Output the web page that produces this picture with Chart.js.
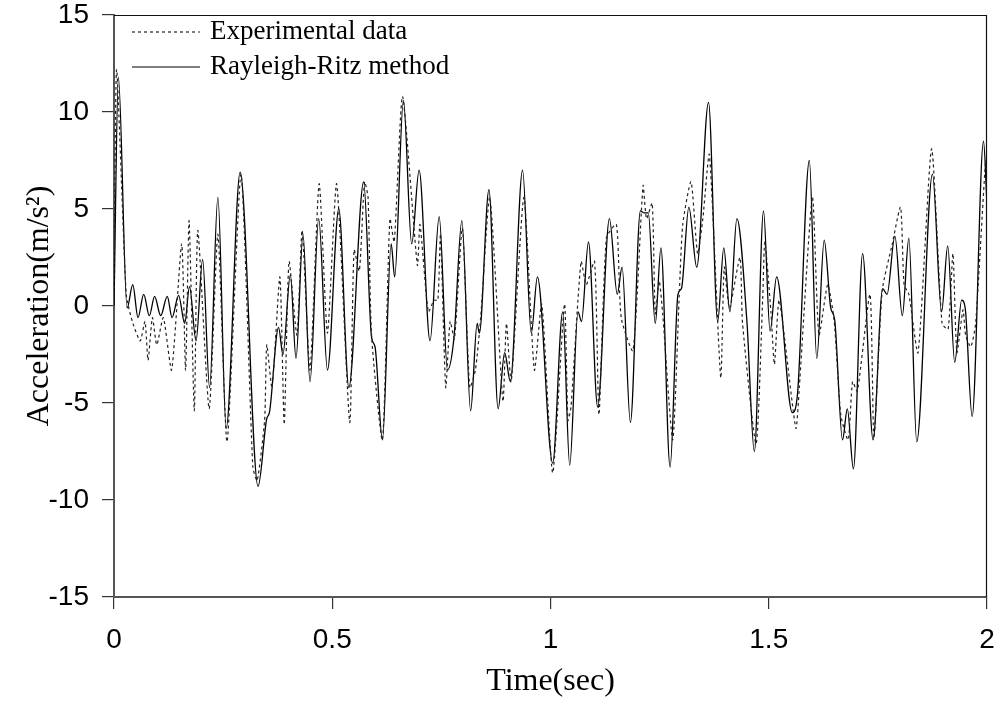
<!DOCTYPE html>
<html>
<head>
<meta charset="utf-8">
<script src="https://cdn.jsdelivr.net/npm/chart.js@4"></script>
<style>
body { margin: 0; background: #fff; }
#wrap { width: 1001px; height: 701px; }
</style>
</head>
<body>
<div id="wrap"><canvas id="myChart"></canvas></div>
<script>
var xTicks = [0, 0.5, 1, 1.5, 2];
var yTicks = [-15, -10, -5, 0, 5, 10, 15];

// Rayleigh-Ritz method (solid)
var timeRR = [0, 0.010, 0.030, 0.043, 0.055, 0.068, 0.081, 0.093, 0.107, 0.122,
  0.133, 0.148, 0.162, 0.173, 0.188, 0.203, 0.219, 0.238, 0.257, 0.289,
  0.330, 0.350, 0.356, 0.377, 0.387, 0.404, 0.417, 0.433, 0.449, 0.469,
  0.489, 0.515, 0.538, 0.572, 0.590, 0.598, 0.615, 0.635, 0.643, 0.663,
  0.682, 0.699, 0.724, 0.745, 0.764, 0.779, 0.797, 0.817, 0.832, 0.837,
  0.859, 0.880, 0.895, 0.908, 0.936, 0.956, 0.970, 1.005, 1.028, 1.044,
  1.063, 1.071, 1.087, 1.108, 1.135, 1.153, 1.164, 1.183, 1.206, 1.215,
  1.224, 1.240, 1.253, 1.274, 1.292, 1.300, 1.317, 1.335, 1.362, 1.383,
  1.397, 1.411, 1.427, 1.450, 1.467, 1.488, 1.503, 1.518, 1.554, 1.566,
  1.593, 1.610, 1.627, 1.642, 1.651, 1.669, 1.680, 1.694, 1.715, 1.739,
  1.761, 1.771, 1.789, 1.806, 1.821, 1.839, 1.875, 1.896, 1.910, 1.926,
  1.942, 1.950, 1.966, 1.992, 2.000];
var accRR = [0, 11.8, -0.1, 1.1, -0.6, 0.6, -0.5, 0.5, -0.5, 0.5,
  -0.6, 0.55, -0.9, 1.0, -1.8, 2.4, -4.2, 5.6, -6.3, 6.9,
  -9.3, -5.8, -5.5, -1.1, -2.5, 1.6, -2.7, 3.7, -3.9, 4.5,
  -3.3, 5.0, -4.2, 6.4, -1.6, -2.1, -6.9, 3.2, 1.5, 10.6,
  3.2, 7.0, -1.8, 4.6, -3.3, -1.6, 4.4, -5.4, -0.9, -1.4,
  6.0, -5.3, -2.4, -3.9, 7.0, -1.4, 1.5, -8.1, -0.3, -8.2,
  -0.3, -0.8, 3.3, -5.2, 4.5, 0.6, 2.0, -6.0, 4.9, 4.8,
  4.8, -0.9, 3.0, -8.3, 0.6, 0.9, 5.1, 2.0, 10.5, -0.8,
  3.0, -0.3, 4.5, -0.8, -7.5, 4.9, -1.3, 1.5, -5.5, -4.5,
  7.5, -2.7, 3.4, -0.1, -0.7, -6.9, -5.3, -8.4, 2.7, -6.9,
  0.9, 0.6, 3.6, -0.5, 3.5, -7.0, 6.8, -0.3, 3.1, -2.9,
  0.3, -0.1, -5.7, 8.5, 5.2];

// Experimental data (dotted)
var timeExp = [0, 0.006, 0.028, 0.042, 0.060, 0.071, 0.078, 0.088, 0.098, 0.113,
  0.132, 0.155, 0.164, 0.172, 0.184, 0.192, 0.218, 0.238, 0.259, 0.291,
  0.318, 0.328, 0.345, 0.350, 0.362, 0.380, 0.390, 0.401, 0.419, 0.431,
  0.449, 0.470, 0.489, 0.510, 0.540, 0.550, 0.562, 0.574, 0.582, 0.590,
  0.615, 0.632, 0.642, 0.661, 0.695, 0.701, 0.720, 0.733, 0.742, 0.748,
  0.760, 0.770, 0.780, 0.798, 0.815, 0.828, 0.840, 0.861, 0.891, 0.899,
  0.910, 0.939, 0.963, 0.980, 1.005, 1.032, 1.040, 1.047, 1.070, 1.082,
  1.101, 1.111, 1.128, 1.151, 1.162, 1.189, 1.212, 1.220, 1.233, 1.240,
  1.249, 1.257, 1.280, 1.295, 1.303, 1.322, 1.337, 1.349, 1.364, 1.390,
  1.398, 1.410, 1.434, 1.440, 1.471, 1.486, 1.491, 1.505, 1.513, 1.524,
  1.562, 1.570, 1.600, 1.615, 1.635, 1.650, 1.665, 1.682, 1.692, 1.703,
  1.732, 1.741, 1.760, 1.783, 1.802, 1.810, 1.821, 1.842, 1.873, 1.897,
  1.911, 1.922, 1.931, 1.945, 1.951, 1.963, 1.974, 1.997, 2.000];
var accExp = [0, 12.2, 0.6, -0.8, -1.8, -0.8, -2.8, -0.6, -2.0, -0.6,
  -3.3, 3.2, -3.3, 4.4, -5.4, 3.9, -5.3, 3.7, -7.0, 6.8,
  -8.3, -9.0, -5.9, -2.0, -4.2, 1.5, -6.1, 2.3, -1.5, 3.9,
  -3.3, 6.3, -1.4, 6.3, -6.0, 2.9, 1.8, 6.4, 5.6, -1.5,
  -6.9, 4.5, 3.3, 10.8, 2.1, 4.2, -0.3, 0.3, 0.3, 3.7,
  -4.2, -0.8, -1.7, 4.0, -4.2, -3.3, -0.6, 5.6, -4.9, -0.9,
  -3.9, 5.6, -3.3, 0.1, -8.6, 0.1, -5.9, -5.2, 2.3, 1.1,
  2.3, -5.6, 3.5, 4.2, -0.6, -2.3, 6.2, 4.5, 5.3, -0.4,
  1.3, -0.4, -6.9, 0.6, 4.2, 6.4, 2.7, 4.5, 7.8, -3.7,
  2.0, -0.1, 2.5, -0.9, -7.1, 0.3, 3.3, -0.3, -3.0, 0.3,
  -6.3, -4.2, 5.6, -1.5, 1.1, -0.8, -5.6, -6.9, -3.9, -4.4,
  0.6, -6.8, 0.8, 3.2, 5.1, 1.1, 0.6, -2.4, 8.1, -0.9,
  -1.2, 2.7, -2.4, -0.2, -1.5, -2.1, -0.9, 7.5, 5.7];

function toPoints(xs, ys) {
  var pts = [];
  for (var i = 0; i < xs.length; i++) pts.push({x: xs[i], y: ys[i]});
  return pts;
}

// frame on top/right plus legend inside the plot, top-left
var frameLegend = {
  id: 'frameLegend',
  afterDraw: function(chart) {
    var ctx = chart.ctx, a = chart.chartArea;
    ctx.save();
    ctx.strokeStyle = '#111';
    ctx.lineWidth = 1.2;
    ctx.beginPath();
    ctx.moveTo(a.left, a.top + 0.5); ctx.lineTo(a.right, a.top + 0.5);
    ctx.moveTo(a.right - 0.5, a.top); ctx.lineTo(a.right - 0.5, a.bottom);
    ctx.stroke();

    ctx.font = '27px "Liberation Serif", "Times New Roman", serif';
    ctx.textBaseline = 'middle';
    ctx.textAlign = 'left';
    chart.data.datasets.forEach(function(ds, i) {
      var y = a.top + 17 + i * 35;
      ctx.setLineDash(ds.borderDash || []);
      ctx.strokeStyle = ds.borderColor;
      ctx.lineWidth = 1.2;
      ctx.beginPath();
      ctx.moveTo(a.left + 18, y); ctx.lineTo(a.left + 86, y);
      ctx.stroke();
      ctx.setLineDash([]);
      ctx.fillStyle = '#000';
      ctx.fillText(ds.label, a.left + 96, y);
    });
    ctx.restore();
  }
};

var tickFont = {family: '"Liberation Sans", Arial, sans-serif', size: 28};
var titleFont = {family: '"Liberation Serif", "Times New Roman", serif', size: 32};

new Chart("myChart", {
  type: "line",
  data: {
    datasets: [{
      label: "Experimental data",
      data: toPoints(timeExp, accExp),
      borderColor: "#222",
      borderWidth: 1.2,
      borderDash: [3, 3],
      pointRadius: 0,
      tension: 0.2
    }, {
      label: "Rayleigh-Ritz method",
      data: toPoints(timeRR, accRR),
      borderColor: "#000",
      borderWidth: 1.3,
      pointRadius: 0,
      cubicInterpolationMode: "monotone"
    }]
  },
  options: {
    responsive: true,
    maintainAspectRatio: false,
    animation: false,
    layout: {padding: {top: 15, right: 14, left: 0, bottom: 0}},
    plugins: {legend: {display: false}, tooltip: {enabled: false}},
    scales: {
      x: {
        type: "linear",
        min: 0, max: 2,
        afterBuildTicks: function(s) { s.ticks = xTicks.map(function(v) { return {value: v}; }); },
        afterFit: function(s) { s.height = 104; s.paddingLeft = 0; s.paddingRight = 0; },
        ticks: {font: tickFont, color: "#000", padding: 14, maxRotation: 0,
          callback: function(v) { return String(v); }},
        grid: {drawOnChartArea: false, drawTicks: true, tickLength: 12, color: "#333", lineWidth: 1.2},
        border: {display: true, color: "#555", width: 2},
        title: {display: true, text: "Time(sec)", font: titleFont, color: "#000", padding: {top: 0, bottom: 0}}
      },
      y: {
        min: -15, max: 15,
        afterBuildTicks: function(s) { s.ticks = yTicks.map(function(v) { return {value: v}; }); },
        afterFit: function(s) { s.width = 114; s.paddingTop = 0; s.paddingBottom = 0; },
        ticks: {font: tickFont, color: "#000", padding: 13,
          callback: function(v) { return String(v); }},
        grid: {drawOnChartArea: false, drawTicks: true, tickLength: 12, color: "#333", lineWidth: 1.2},
        border: {display: true, color: "#555", width: 2},
        title: {display: true, text: "Acceleration(m/s\u00B2)", font: titleFont, color: "#000", padding: {top: 20, bottom: 0}}
      }
    }
  },
  plugins: [frameLegend]
});
</script>
</body>
</html>
